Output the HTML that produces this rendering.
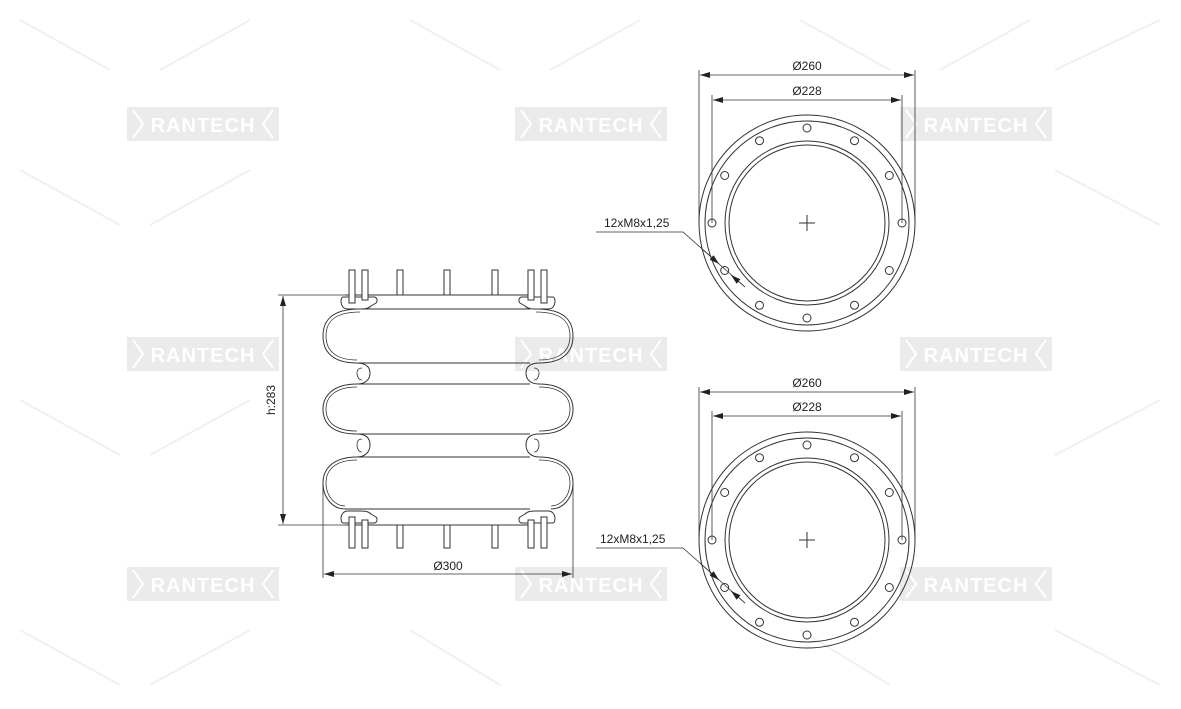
<!DOCTYPE html>
<html><head><meta charset="utf-8"><style>
html,body{margin:0;padding:0;background:#fff;}
svg{display:block;font-family:"Liberation Sans",sans-serif;}
</style></head><body>
<svg width="1181" height="709" viewBox="0 0 1181 709" xmlns="http://www.w3.org/2000/svg">
<defs>
<g id="wm">
<rect x="0" y="0" width="152" height="34" fill="#ebebeb"/>
<polyline points="6,3 16,17 6,31" fill="none" stroke="#fff" stroke-width="2"/>
<polyline points="146,3 136,17 146,31" fill="none" stroke="#fff" stroke-width="2"/>
<text x="76" y="25" text-anchor="middle" font-size="20" font-weight="bold" fill="#fff" letter-spacing="1">RANTECH</text>
</g>
<marker id="ar" viewBox="0 0 10 6" refX="10" refY="3" markerWidth="10" markerHeight="6" orient="auto-start-reverse" markerUnits="userSpaceOnUse"><path d="M0,0 L10,3 L0,6 z" fill="#222"/></marker>
<g id="flange">
<circle r="108" fill="none" stroke="#333" stroke-width="1"/>
<circle r="102" fill="none" stroke="#333" stroke-width="1"/>
<circle r="82" fill="none" stroke="#333" stroke-width="1"/>
<circle r="78" fill="none" stroke="#333" stroke-width="1"/>
<g fill="#fff" stroke="#333" stroke-width="1">
<circle cx="0" cy="-95" r="4"/><circle cx="47.5" cy="-82.3" r="4"/><circle cx="82.3" cy="-47.5" r="4"/>
<circle cx="95" cy="0" r="4"/><circle cx="82.3" cy="47.5" r="4"/><circle cx="47.5" cy="82.3" r="4"/>
<circle cx="0" cy="95" r="4"/><circle cx="-47.5" cy="82.3" r="4"/><circle cx="-82.3" cy="47.5" r="4"/>
<circle cx="-95" cy="0" r="4"/><circle cx="-82.3" cy="-47.5" r="4"/><circle cx="-47.5" cy="-82.3" r="4"/>
</g>
<line x1="-8" y1="0" x2="8" y2="0" stroke="#333"/><line x1="0" y1="-8" x2="0" y2="8" stroke="#333"/>
</g>
<g id="side">
<path d="M360 309 C330 309 323 322 323 336 C323 352 333 363 357 363 C368 363 370 369 370 373 C370 379 366 384 357 384 C333 384 323 396 323 409 C323 424 333 434 357 434 C368 434 370 440 370 445 C370 451 366 457 357 457 C333 457 323 469 323 483 C323 498 333 509 345 509" fill="none" stroke="#333" stroke-width="1"/>
<path d="M360 312 C333 312 326 323 326 336 C326 350 335 360 357 360" fill="none" stroke="#333" stroke-width="0.8"/>
<path d="M357 387 C335 387 326 397 326 409 C326 422 335 431 357 431" fill="none" stroke="#333" stroke-width="0.8"/>
<path d="M357 460 C335 460 326 470 326 483 C326 496 335 506 345 506" fill="none" stroke="#333" stroke-width="0.8"/>
<path d="M362 368 C358 368 357 371 357 373 C357 377 359 380 362 380" fill="none" stroke="#333" stroke-width="0.8"/>
<path d="M362 439 C358 439 357 442 357 445 C357 449 359 452 362 452" fill="none" stroke="#333" stroke-width="0.8"/>
<!-- clamps -->
<path d="M343 297 L374 297 C377 297 378 301 376 303 L371 306 C368 309 364 309 360 309 L348 309 C343 309 341 305 341 301 C341 299 342 297 343 297z" fill="#fff" stroke="#333" stroke-width="1"/>
<path d="M343 523 L374 523 C377 523 378 519 376 517 L371 514 C368 511 364 511 360 511 L348 511 C343 511 341 515 341 519 C341 521 342 523 343 523z" fill="#fff" stroke="#333" stroke-width="1"/>
<rect x="349" y="270" width="6" height="33" fill="#fff" stroke="#333"/>
<rect x="362" y="270" width="6" height="30" fill="#fff" stroke="#333"/>
<rect x="349" y="517" width="6" height="31" fill="#fff" stroke="#333"/>
<rect x="362" y="520" width="6" height="28" fill="#fff" stroke="#333"/>
</g>
</defs>
<!-- background diagonal watermark lines -->
<g stroke="#f0f0f0" stroke-width="2">
<line x1="20" y1="20" x2="110" y2="70"/><line x1="160" y1="70" x2="250" y2="20"/>
<line x1="410" y1="20" x2="500" y2="70"/><line x1="550" y1="70" x2="640" y2="20"/>
<line x1="800" y1="20" x2="890" y2="70"/><line x1="940" y1="70" x2="1030" y2="20"/>
<line x1="20" y1="170" x2="120" y2="225"/><line x1="150" y1="225" x2="250" y2="170"/>
<line x1="20" y1="400" x2="120" y2="455"/><line x1="150" y1="455" x2="250" y2="400"/>
<line x1="20" y1="630" x2="120" y2="685"/><line x1="150" y1="685" x2="250" y2="630"/>
<line x1="1055" y1="170" x2="1160" y2="225"/><line x1="1055" y1="455" x2="1160" y2="400"/>
<line x1="1055" y1="630" x2="1160" y2="685"/><line x1="1055" y1="70" x2="1160" y2="20"/>
<line x1="800" y1="630" x2="890" y2="685"/><line x1="410" y1="630" x2="500" y2="685"/>
</g>
<use href="#wm" x="127" y="107"/><use href="#wm" x="515" y="107"/><use href="#wm" x="900" y="107"/>
<use href="#wm" x="127" y="337"/><use href="#wm" x="515" y="337"/><use href="#wm" x="900" y="337"/>
<use href="#wm" x="127" y="567"/><use href="#wm" x="515" y="567"/><use href="#wm" x="900" y="567"/>

<!-- side view -->
<g stroke="#333" stroke-width="1" fill="none">
<line x1="345" y1="295" x2="530" y2="295"/>
<line x1="360" y1="309" x2="530" y2="309"/>
<line x1="357" y1="363" x2="530" y2="363"/><line x1="357" y1="384" x2="530" y2="384"/>
<line x1="357" y1="434" x2="530" y2="434"/><line x1="357" y1="457" x2="530" y2="457"/>
<line x1="345" y1="509" x2="530" y2="509"/>
<line x1="345" y1="525" x2="530" y2="525"/>
</g>
<g fill="#fff" stroke="#333">
<rect x="397" y="270" width="6" height="25"/><rect x="444" y="270" width="6" height="25"/><rect x="492" y="270" width="6" height="25"/>
<rect x="397" y="525" width="6" height="23"/><rect x="444" y="525" width="6" height="23"/><rect x="492" y="525" width="6" height="23"/>
</g>
<use href="#side"/>
<use href="#side" transform="translate(896,0) scale(-1,1)"/>
<!-- dims side -->
<g stroke="#333" stroke-width="0.8" fill="none">
<line x1="278" y1="295" x2="345" y2="295"/>
<line x1="278" y1="525" x2="345" y2="525"/>
<line x1="283" y1="296" x2="283" y2="524" marker-start="url(#ar)" marker-end="url(#ar)"/>
<line x1="323" y1="483" x2="323" y2="578"/><line x1="573" y1="483" x2="573" y2="578"/>
<line x1="324" y1="574" x2="572" y2="574" marker-start="url(#ar)" marker-end="url(#ar)"/>
</g>
<text x="448" y="570" text-anchor="middle" font-size="12" fill="#222">Ø300</text>
<text transform="translate(275,400) rotate(-90)" text-anchor="middle" font-size="12" fill="#222">h:283</text>

<!-- top flange -->
<use href="#flange" x="807" y="223"/>
<g stroke="#333" stroke-width="0.8" fill="none">
<line x1="699" y1="70" x2="699" y2="223"/><line x1="915" y1="70" x2="915" y2="223"/>
<line x1="700" y1="75" x2="914" y2="75" marker-start="url(#ar)" marker-end="url(#ar)"/>
<line x1="712" y1="95" x2="712" y2="223"/><line x1="902" y1="95" x2="902" y2="223"/>
<line x1="713" y1="100" x2="901" y2="100" marker-start="url(#ar)" marker-end="url(#ar)"/>
<polyline points="596,232 683,232 745,287"/>
<line x1="700" y1="247" x2="719" y2="264" marker-end="url(#ar)"/>
<line x1="745" y1="287" x2="731" y2="275" marker-end="url(#ar)"/>
</g>
<text x="807" y="70" text-anchor="middle" font-size="12" fill="#222">Ø260</text>
<text x="807" y="95" text-anchor="middle" font-size="12" fill="#222">Ø228</text>
<text x="604" y="227" font-size="12" fill="#222">12xM8x1,25</text>

<!-- bottom flange -->
<use href="#flange" x="807" y="540"/>
<g stroke="#333" stroke-width="0.8" fill="none">
<line x1="699" y1="387" x2="699" y2="540"/><line x1="915" y1="387" x2="915" y2="540"/>
<line x1="700" y1="392" x2="914" y2="392" marker-start="url(#ar)" marker-end="url(#ar)"/>
<line x1="712" y1="411" x2="712" y2="540"/><line x1="902" y1="411" x2="902" y2="540"/>
<line x1="713" y1="416" x2="901" y2="416" marker-start="url(#ar)" marker-end="url(#ar)"/>
<polyline points="596,548 683,548 745,603"/>
<line x1="700" y1="563" x2="719" y2="580" marker-end="url(#ar)"/>
<line x1="745" y1="603" x2="731" y2="591" marker-end="url(#ar)"/>
</g>
<text x="807" y="387" text-anchor="middle" font-size="12" fill="#222">Ø260</text>
<text x="807" y="411" text-anchor="middle" font-size="12" fill="#222">Ø228</text>
<text x="600" y="543" font-size="12" fill="#222">12xM8x1,25</text>
</svg>
</body></html>
